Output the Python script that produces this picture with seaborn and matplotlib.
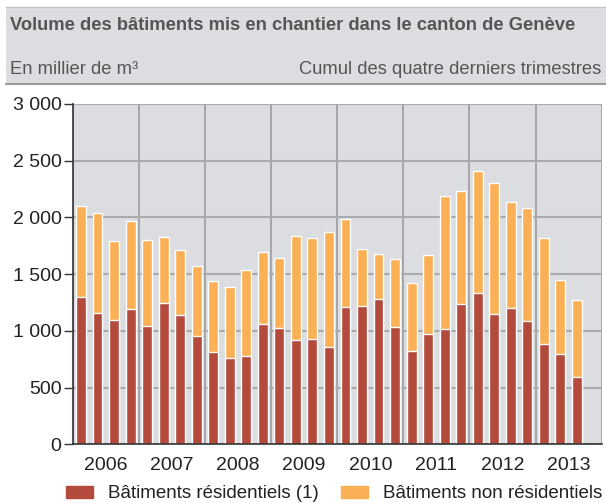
import numpy as np
import pandas as pd
import matplotlib
matplotlib.use("Agg")
import matplotlib.pyplot as plt
import matplotlib.patches as mpatches
import seaborn as sns

# ── Données (milliers de m3, cumul des quatre derniers trimestres) ──────────
annees = ["2006", "2007", "2008", "2009", "2010", "2011", "2012", "2013"]
residentiels = [1300, 1160, 1095, 1195, 1045, 1245, 1140, 955,
                815, 760, 780, 1060, 1025, 920, 930, 860,
                1210, 1220, 1280, 1035, 825, 975, 1015, 1235,
                1335, 1150, 1200, 1085, 885, 795, 595]
totaux = [2100, 2040, 1790, 1970, 1800, 1825, 1715, 1570,
          1440, 1385, 1535, 1695, 1640, 1835, 1820, 1870,
          1985, 1720, 1680, 1635, 1420, 1670, 2190, 2235,
          2410, 2305, 2135, 2085, 1820, 1450, 1270]

ROUGE = "#b44a3c"
ORANGE = "#fbb055"
FOND = "#dcdde0"

trimestres = [f"{a}T{q}" for a in annees for q in range(1, 5)]
df = pd.DataFrame({
    "trimestre": trimestres[:len(totaux)],
    "total": totaux,
    "residentiels": residentiels,
})

sns.set_style("white")
plt.rcParams["font.family"] = ["Liberation Sans", "DejaVu Sans"]

fig = plt.figure(figsize=(6.06, 5.03), dpi=100)

# ── Bandeau de titre ─────────────────────────────────────────────────────────
H = 503
fig.patches.append(mpatches.Rectangle((6 / 606, 1 - 84 / H), 1, 77 / H,
                                      transform=fig.transFigure,
                                      facecolor=FOND, edgecolor="none"))
fig.add_artist(plt.Line2D([6 / 606, 1], [1 - 7 / H] * 2, color="#c4c5c7", lw=1))
fig.add_artist(plt.Line2D([6 / 606, 1], [1 - 84 / H] * 2, color="#9a9b9d", lw=1.5))
fig.text(10 / 606, 1 - 25 / H,
         "Volume des bâtiments mis en chantier dans le canton de Genève",
         fontsize=13.2, fontweight="bold", color="#555555", va="center")
fig.text(10 / 606, 1 - 70 / H, "En millier de m³",
         fontsize=13.2, color="#555555", va="center")
fig.text(601 / 606, 1 - 70 / H, "Cumul des quatre derniers trimestres",
         fontsize=13.2, color="#555555", va="center", ha="right")

# ── Graphique ────────────────────────────────────────────────────────────────
ax = fig.add_axes([72.7 / 606, 58.7 / H, 529 / 606, 340.3 / H])
ax.set_facecolor(FOND)

sns.barplot(data=df, x="trimestre", y="total", order=trimestres,
            color=ORANGE, width=0.6, saturation=1, ax=ax, zorder=3)
sns.barplot(data=df, x="trimestre", y="residentiels", order=trimestres,
            color=ROUGE, width=0.6, saturation=1, ax=ax, zorder=3)

ax.set_xlim(-0.5, len(trimestres) - 0.5)
ax.set_ylim(0, 3000)
ax.set_yticks(np.arange(0, 3001, 500))
ax.set_yticklabels([f"{v:,}".replace(",", " ") for v in range(0, 3001, 500)])
ax.set_xlabel("")
ax.set_ylabel("")

limites = np.arange(-0.5, len(trimestres), 4)
ax.set_xticks(limites)
ax.set_xticklabels([])
ax.set_xticks(limites[:-1] + 2, minor=True)
ax.set_xticklabels(annees, minor=True)

ax.tick_params(axis="x", which="major", length=8, width=1, color="#333333",
               direction="out")
ax.tick_params(axis="x", which="minor", length=0, pad=9, labelsize=14,
               labelcolor="#222222")
ax.tick_params(axis="y", length=6.5, width=1, color="#333333", pad=1.5,
               labelsize=14, labelcolor="#222222", left=True)

ax.grid(axis="y", color="#a9aaac", lw=1.5, zorder=1)
ax.grid(axis="x", which="major", color="#9c9d9f", lw=1.2, zorder=1)
ax.set_axisbelow(True)

for cote in ["top", "right"]:
    ax.spines[cote].set_visible(False)
for cote in ["left", "bottom"]:
    ax.spines[cote].set_color("#333333")
    ax.spines[cote].set_linewidth(1.2)
    ax.spines[cote].set_zorder(4)

# ── Légende ──────────────────────────────────────────────────────────────────
poignees = [mpatches.Patch(color=ROUGE, label="Bâtiments résidentiels (1)"),
            mpatches.Patch(color=ORANGE, label="Bâtiments non résidentiels")]
fig.legend(handles=poignees, loc="center left", ncol=2, frameon=False,
           bbox_to_anchor=(66 / 606, 1 - 494 / H), fontsize=13.5,
           handlelength=1.45, handleheight=0.65, handletextpad=0.8,
           columnspacing=1.15, labelcolor="#222222", borderaxespad=0,
           borderpad=0)

fig.savefig("out.png", dpi=100)
